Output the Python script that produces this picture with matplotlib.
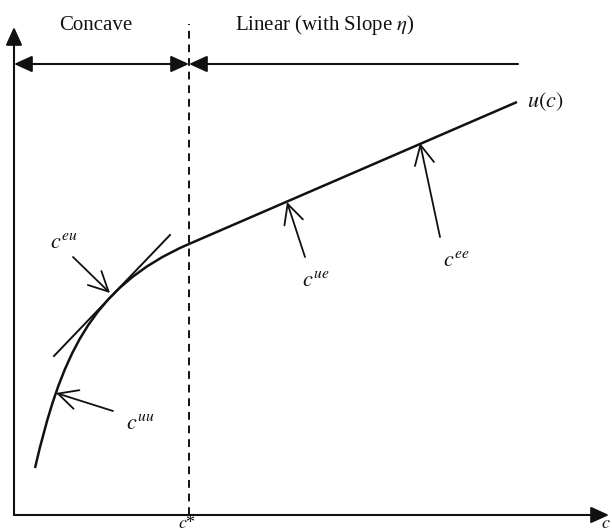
import matplotlib
matplotlib.use("Agg")
import matplotlib.pyplot as plt
from matplotlib.path import Path
from matplotlib.patches import PathPatch

plt.rcParams["font.family"] = ["Liberation Serif", "DejaVu Serif"]
plt.rcParams["mathtext.fontset"] = "stix"

# ---------------------------------------------------------------- data
# schematic utility curve u(c): concave part (one cubic Bezier segment,
# start, two control points, end at c*) then linear with slope eta
c_star = 189
concave_c = [35, 60, 89, 189]
concave_u = [64, 171, 245, 288]
linear_end = (517, 430)

# tangent line at c^eu
tangent_c = [54, 170]
tangent_u = [176, 297]

# annotated points: label, label position, arrow tail, arrow head
labels = ["$c^{eu}$", "$c^{uu}$", "$c^{ue}$", "$c^{ee}$"]
label_xy = [(64, 288), (140, 107), (316, 250), (456, 270)]
tail_xy = [(73, 275), (113, 121), (305, 275), (440, 295)]
head_xy = [(110, 239), (56, 139), (287, 330), (420, 389)]

region_titles = ["Concave", r"Linear (with Slope $\eta$)"]
region_title_x = [96, 325]

# ---------------------------------------------------------------- figure
fig = plt.figure(figsize=(6.12, 5.32), dpi=100)
ax = fig.add_axes([0, 0, 1, 1])
ax.set_xlim(0, 612)
ax.set_ylim(0, 532)
ax.axis("off")

black = "#111111"
x0, y0 = 14, 17


def arrow(ax, start, end, style, lw=1.5, scale=20):
    ax.annotate("", xy=end, xytext=start,
                arrowprops=dict(arrowstyle=style, color=black, lw=lw,
                                shrinkA=0, shrinkB=0, mutation_scale=scale))


# axes
arrow(ax, (x0, y0), (x0, 505), "-|>,head_length=0.55,head_width=0.25")
arrow(ax, (x0, y0), (609, y0), "-|>,head_length=0.55,head_width=0.25")

# c* dashed line
ax.plot([c_star, c_star], [y0, 508], color=black, lw=1.4, ls=(0, (4, 3)))

# region arrows
ybar = 468
arrow(ax, (x0, ybar), (c_star, ybar), "<|-|>,head_length=0.55,head_width=0.25")
arrow(ax, (c_star, ybar), (518, ybar), "<|-,head_length=0.55,head_width=0.25")

for t, x in zip(region_titles, region_title_x):
    ax.text(x, 507, t, ha="center", va="center", fontsize=15, color=black)

# curve and tangent
verts = list(zip(concave_c, concave_u)) + [linear_end]
codes = [Path.MOVETO, Path.CURVE4, Path.CURVE4, Path.CURVE4, Path.LINETO]
ax.add_patch(PathPatch(Path(verts, codes), fill=False, edgecolor=black,
                       lw=1.8, capstyle="butt"))
ax.plot(tangent_c, tangent_u, color=black, lw=1.4)

ax.text(527, 430, "$u(c)$", ha="left", va="center", fontsize=16, color=black)

for lab, lxy, txy, hxy in zip(labels, label_xy, tail_xy, head_xy):
    arrow(ax, txy, hxy, "->,head_length=0.7,head_width=0.35", lw=1.3)
    ax.text(lxy[0], lxy[1], lab, ha="center", va="center", fontsize=16,
            color=black)

# axis labels at the bottom edge
ax.text(c_star - 2, 0, "$c$*", ha="center", va="bottom", fontsize=13,
        color=black)
ax.text(611, 0, "$c$", ha="right", va="bottom", fontsize=13, color=black)

fig.savefig("out.png", dpi=100)
